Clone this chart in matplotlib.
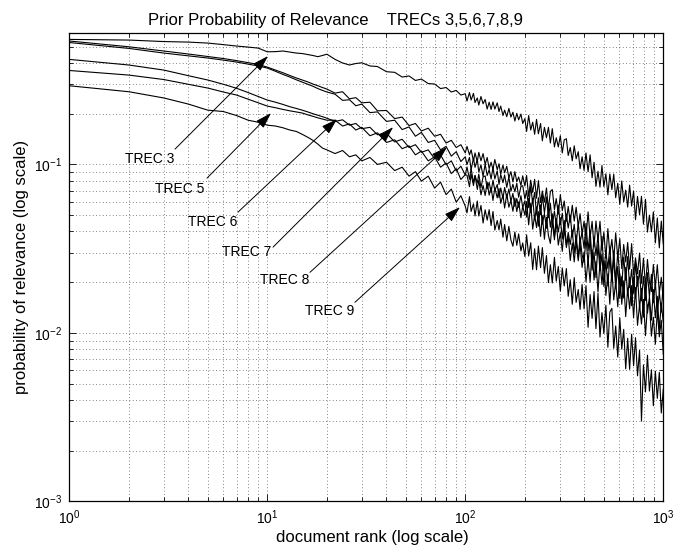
import matplotlib
matplotlib.use("Agg")
import matplotlib.pyplot as plt
import numpy as np
from matplotlib.ticker import LogLocator, NullFormatter

plt.rcParams["font.family"] = ["Liberation Sans", "DejaVu Sans"]
plt.rcParams["mathtext.default"] = "regular"

# document ranks shared by all runs
RANKS = [1, 2, 3, 4, 5, 6, 7, 8, 9, 10, 11, 12, 13, 14, 15, 16, 17, 18, 19, 20,
         22, 24, 26, 28, 30, 33, 36, 40, 44, 48, 52, 56, 60, 65, 70, 75, 80, 85, 90, 95, 100,
         102, 105, 107, 110, 112, 115, 117, 120, 123, 126,
         129, 132, 135, 138, 141, 145, 148, 151, 155, 158,
         162, 166, 170, 174, 178, 182, 186, 191, 195, 200,
         204, 209, 214, 219, 224, 229, 234, 240, 245, 251,
         257, 263, 269, 275, 282, 288, 295, 302, 309, 316,
         324, 331, 339, 347, 355, 363, 372, 380, 389, 398,
         407, 417, 427, 437, 447, 457, 468, 479, 490, 501,
         513, 525, 537, 550, 562, 575, 589, 603, 617, 631,
         646, 661, 676, 692, 708, 724, 741, 759, 776, 794,
         813, 832, 851, 871, 891, 912, 933, 955, 977, 1000]

# probability of relevance at each rank
TREC3 = [0.552, 0.547, 0.536, 0.532, 0.525, 0.514, 0.504, 0.497, 0.490, 0.466,
         0.467, 0.471, 0.464, 0.458, 0.455, 0.449, 0.443, 0.436, 0.443, 0.451,
         0.420, 0.400, 0.389, 0.397, 0.401, 0.384, 0.381, 0.355, 0.352, 0.330, 0.335,
         0.315, 0.321, 0.302, 0.300, 0.282, 0.286, 0.269, 0.275, 0.258, 0.263,
         0.238, 0.267, 0.241, 0.264, 0.233, 0.248, 0.225, 0.253, 0.229, 0.243,
         0.213, 0.234, 0.212, 0.235, 0.213, 0.232, 0.206, 0.222, 0.195, 0.210,
         0.192, 0.215, 0.191, 0.204, 0.181, 0.201, 0.184, 0.199, 0.175, 0.187,
         0.157, 0.195, 0.160, 0.178, 0.151, 0.185, 0.152, 0.175, 0.138, 0.166,
         0.144, 0.166, 0.134, 0.163, 0.127, 0.144, 0.127, 0.148, 0.117, 0.140,
         0.142, 0.113, 0.126, 0.105, 0.129, 0.108, 0.119, 0.0943, 0.111, 0.0922,
         0.117, 0.0905, 0.114, 0.0833, 0.103, 0.0741, 0.0911, 0.0733, 0.0985, 0.0738,
         0.0880, 0.0660, 0.0878, 0.0709, 0.0876, 0.0635, 0.0773, 0.0580, 0.0798, 0.0600,
         0.0704, 0.0558, 0.0754, 0.0566, 0.0696, 0.0470, 0.0646, 0.0503, 0.0647, 0.0442,
         0.0621, 0.0397, 0.0500, 0.0398, 0.0523, 0.0342, 0.0481, 0.0320, 0.0461, 0.0337]

TREC5 = [0.361, 0.339, 0.319, 0.299, 0.284, 0.269, 0.258, 0.244, 0.232, 0.222,
         0.217, 0.212, 0.208, 0.205, 0.202, 0.197, 0.193, 0.189, 0.186, 0.183,
         0.183, 0.169, 0.174, 0.160, 0.166, 0.148, 0.154, 0.135, 0.140, 0.124, 0.129,
         0.114, 0.120, 0.105, 0.111, 0.0963, 0.102, 0.0882, 0.0944, 0.0814, 0.0870,
         0.0863, 0.0738, 0.0876, 0.0749, 0.0859, 0.0711, 0.0807, 0.0660, 0.0751, 0.0654,
         0.0786, 0.0657, 0.0732, 0.0611, 0.0726, 0.0633, 0.0719, 0.0588, 0.0659, 0.0551,
         0.0667, 0.0557, 0.0611, 0.0527, 0.0632, 0.0525, 0.0599, 0.0483, 0.0566, 0.0499,
         0.0602, 0.0438, 0.0588, 0.0413, 0.0499, 0.0422, 0.0525, 0.0374, 0.0497, 0.0360,
         0.0486, 0.0378, 0.0340, 0.0459, 0.0357, 0.0457, 0.0332, 0.0394, 0.0305, 0.0416,
         0.0321, 0.0373, 0.0269, 0.0342, 0.0264, 0.0349, 0.0268, 0.0337, 0.0245, 0.0302,
         0.0201, 0.0274, 0.0200, 0.0312, 0.0206, 0.0266, 0.0175, 0.0265, 0.0194, 0.0265,
         0.0167, 0.0224, 0.0148, 0.0239, 0.0157, 0.0201, 0.0143, 0.0224, 0.0148, 0.0204,
         0.0125, 0.0185, 0.0139, 0.0191, 0.0123, 0.0186, 0.0111, 0.0147, 0.0113, 0.0158,
         0.00964, 0.0146, 0.0153, 0.00958, 0.0124, 0.00858, 0.0136, 0.00948, 0.0119, 0.00747]

TREC6 = [0.420, 0.389, 0.363, 0.336, 0.317, 0.299, 0.283, 0.267, 0.253, 0.241,
         0.234, 0.227, 0.220, 0.215, 0.210, 0.205, 0.200, 0.196, 0.192, 0.188,
         0.180, 0.184, 0.171, 0.175, 0.163, 0.166, 0.150, 0.153, 0.136, 0.141, 0.126,
         0.131, 0.118, 0.122, 0.108, 0.114, 0.0995, 0.105, 0.0915, 0.0976, 0.0864,
         0.0966, 0.0817, 0.0947, 0.0779, 0.0860, 0.0776, 0.0876, 0.0728, 0.0843, 0.0855,
         0.0716, 0.0783, 0.0682, 0.0806, 0.0701, 0.0760, 0.0636, 0.0725, 0.0629, 0.0730,
         0.0634, 0.0715, 0.0604, 0.0673, 0.0563, 0.0628, 0.0557, 0.0652, 0.0555, 0.0608,
         0.0487, 0.0632, 0.0517, 0.0630, 0.0468, 0.0560, 0.0430, 0.0576, 0.0442, 0.0512,
         0.0418, 0.0546, 0.0424, 0.0510, 0.0372, 0.0478, 0.0397, 0.0481, 0.0361, 0.0466,
         0.0333, 0.0395, 0.0335, 0.0408, 0.0297, 0.0382, 0.0282, 0.0370, 0.0291, 0.0262,
         0.0367, 0.0258, 0.0365, 0.0236, 0.0302, 0.0213, 0.0333, 0.0234, 0.0294, 0.0189,
         0.0267, 0.0190, 0.0283, 0.0202, 0.0278, 0.0184, 0.0248, 0.0160, 0.0216, 0.0161,
         0.0245, 0.0166, 0.0214, 0.0145, 0.0216, 0.0161, 0.0217, 0.0139, 0.0184, 0.0124,
         0.0194, 0.0131, 0.0164, 0.0119, 0.0181, 0.0123, 0.0165, 0.0104, 0.0151, 0.0115]

TREC7 = [0.540, 0.499, 0.471, 0.452, 0.437, 0.425, 0.413, 0.402, 0.392, 0.378,
         0.363, 0.350, 0.337, 0.326, 0.317, 0.309, 0.300, 0.293, 0.286, 0.280,
         0.265, 0.270, 0.245, 0.249, 0.232, 0.234, 0.208, 0.209, 0.187, 0.191, 0.170,
         0.175, 0.158, 0.164, 0.147, 0.151, 0.134, 0.139, 0.126, 0.131, 0.117,
         0.128, 0.114, 0.122, 0.105, 0.117, 0.104, 0.118, 0.105, 0.116, 0.100,
         0.110, 0.0943, 0.103, 0.0934, 0.107, 0.0931, 0.101, 0.0877, 0.0991, 0.0892,
         0.0975, 0.0835, 0.0906, 0.0788, 0.0906, 0.0790, 0.0842, 0.0751, 0.0856, 0.0745,
         0.0860, 0.0645, 0.0807, 0.0682, 0.0816, 0.0630, 0.0801, 0.0593, 0.0696, 0.0597,
         0.0725, 0.0543, 0.0691, 0.0710, 0.0540, 0.0627, 0.0507, 0.0662, 0.0532, 0.0607,
         0.0460, 0.0563, 0.0453, 0.0573, 0.0461, 0.0557, 0.0429, 0.0510, 0.0386, 0.0460,
         0.0361, 0.0523, 0.0369, 0.0460, 0.0324, 0.0462, 0.0354, 0.0460, 0.0310, 0.0396,
         0.0279, 0.0416, 0.0294, 0.0359, 0.0270, 0.0393, 0.0278, 0.0363, 0.0241, 0.0335,
         0.0264, 0.0344, 0.0239, 0.0339, 0.0220, 0.0279, 0.0224, 0.0298, 0.0197, 0.0278,
         0.0188, 0.0273, 0.0201, 0.0176, 0.0255, 0.0188, 0.0254, 0.0172, 0.0214, 0.0157]

TREC8 = [0.529, 0.488, 0.458, 0.441, 0.428, 0.416, 0.405, 0.394, 0.384, 0.373,
         0.357, 0.342, 0.330, 0.318, 0.308, 0.299, 0.291, 0.282, 0.275, 0.269,
         0.261, 0.240, 0.242, 0.223, 0.228, 0.203, 0.205, 0.180, 0.183, 0.161, 0.167,
         0.147, 0.155, 0.135, 0.139, 0.122, 0.128, 0.112, 0.119, 0.104, 0.111,
         0.0997, 0.110, 0.0932, 0.109, 0.0961, 0.107, 0.0900, 0.0994, 0.0850, 0.1005,
         0.0859, 0.0932, 0.0819, 0.0960, 0.0820, 0.0916, 0.0761, 0.0872, 0.0779, 0.0866,
         0.0731, 0.0845, 0.0693, 0.0763, 0.0688, 0.0773, 0.0639, 0.0740, 0.0748, 0.0624,
         0.0699, 0.0555, 0.0744, 0.0589, 0.0682, 0.0506, 0.0635, 0.0504, 0.0654, 0.0515,
         0.0641, 0.0483, 0.0587, 0.0436, 0.0529, 0.0434, 0.0573, 0.0439, 0.0514, 0.0393,
         0.0508, 0.0419, 0.0501, 0.0370, 0.0441, 0.0337, 0.0450, 0.0343, 0.0396, 0.0318,
         0.0447, 0.0309, 0.0407, 0.0262, 0.0372, 0.0288, 0.0380, 0.0256, 0.0374, 0.0234,
         0.0303, 0.0241, 0.0327, 0.0211, 0.0307, 0.0203, 0.0301, 0.0218, 0.0190, 0.0282,
         0.0205, 0.0284, 0.0186, 0.0238, 0.0172, 0.0262, 0.0190, 0.0235, 0.0155, 0.0216,
         0.0156, 0.0228, 0.0164, 0.0223, 0.0151, 0.0201, 0.0132, 0.0175, 0.0133, 0.0199]

TREC9 = [0.293, 0.270, 0.248, 0.228, 0.210, 0.206, 0.195, 0.183, 0.178, 0.171,
         0.169, 0.165, 0.160, 0.157, 0.151, 0.145, 0.139, 0.132, 0.125, 0.122,
         0.116, 0.121, 0.111, 0.114, 0.105, 0.110, 0.100, 0.103, 0.0919, 0.0963, 0.0852,
         0.0906, 0.0796, 0.0852, 0.0724, 0.0785, 0.0662, 0.0714, 0.0597, 0.0652, 0.0565,
         0.0516, 0.0644, 0.0526, 0.0584, 0.0495, 0.0607, 0.0494, 0.0571, 0.0449, 0.0538,
         0.0467, 0.0539, 0.0434, 0.0526, 0.0408, 0.0465, 0.0409, 0.0474, 0.0370, 0.0440,
         0.0352, 0.0429, 0.0356, 0.0327, 0.0397, 0.0331, 0.0387, 0.0307, 0.0342, 0.0284,
         0.0382, 0.0286, 0.0343, 0.0238, 0.0316, 0.0237, 0.0328, 0.0244, 0.0321, 0.0226,
         0.0288, 0.0199, 0.0254, 0.0198, 0.0281, 0.0203, 0.0248, 0.0177, 0.0243, 0.0190,
         0.0241, 0.0165, 0.0207, 0.0148, 0.0213, 0.0152, 0.0181, 0.0138, 0.0194, 0.0139,
         0.0191, 0.0108, 0.0169, 0.0122, 0.0176, 0.0106, 0.0172, 0.00945, 0.0132, 0.00993,
         0.0146, 0.00822, 0.0133, 0.0140, 0.00811, 0.0110, 0.00719, 0.0123, 0.00802, 0.0105,
         0.00612, 0.00930, 0.00608, 0.00982, 0.00639, 0.00937, 0.00557, 0.00790, 0.00300, 0.00647,
         0.00447, 0.00738, 0.00452, 0.00604, 0.00370, 0.00593, 0.00409, 0.00584, 0.00335, 0.00463]

SERIES = [TREC3, TREC5, TREC6, TREC7, TREC8, TREC9]
NAMES = ["TREC 3", "TREC 5", "TREC 6", "TREC 7", "TREC 8", "TREC 9"]


def main() -> None:
    fig = plt.figure(figsize=(6.74, 5.54), dpi=100)
    ax = fig.add_axes([0.1028, 0.0948, 0.8813, 0.8451])

    for ys in SERIES:
        ax.plot(RANKS, ys, color="k", lw=0.8)

    ax.set_xscale("log")
    ax.set_yscale("log")
    ax.set_xlim(1, 1000)
    ax.set_ylim(1e-3, 0.6)

    for axis in (ax.xaxis, ax.yaxis):
        axis.set_major_locator(LogLocator(base=10, numticks=10))
        axis.set_minor_locator(LogLocator(base=10, subs=np.arange(2, 10), numticks=10))
        axis.set_minor_formatter(NullFormatter())

    ax.grid(True, which="both", linestyle=(0, (1, 3)), lw=0.6, color="0.35")
    ax.tick_params(which="both", direction="in", top=True, right=True, width=0.6,
                   labelsize=10, pad=5)
    ax.tick_params(which="major", length=5)
    ax.tick_params(which="minor", length=3)
    for sp in ax.spines.values():
        sp.set_linewidth(0.9)

    # (label right edge, arrow tail, arrow tip) in data coords
    notes = [
        ((3.38, 0.1075), (3.42, 0.1233), (10.08, 0.4396)),
        ((4.79, 0.0713), (4.96, 0.0829), (10.44, 0.2016)),
        ((7.03, 0.0454), (7.11, 0.0521), (22.5, 0.1858)),
        ((10.44, 0.0301), (10.69, 0.0323), (43.2, 0.1665)),
        ((16.24, 0.0206), (16.43, 0.0229), (80.9, 0.1267)),
        ((27.4, 0.0135), (27.7, 0.0152), (94.0, 0.0558)),
    ]
    for name, (lab, tail, tip) in zip(NAMES, notes):
        ax.annotate("", xy=tip, xytext=tail,
                    arrowprops=dict(arrowstyle="-|>,head_length=0.7,head_width=0.22",
                                    color="k", lw=0.7, shrinkA=0, shrinkB=0,
                                    mutation_scale=14))
        ax.text(lab[0], lab[1], name, ha="right", va="center", fontsize=10)

    ax.set_title("Prior Probability of Relevance    TRECs 3,5,6,7,8,9", fontsize=12,
                 pad=6, x=0.448)
    ax.set_xlabel("document rank (log scale)", fontsize=12, labelpad=2)
    ax.xaxis.label.set_x(0.51)
    ax.set_ylabel("probability of relevance (log scale)", fontsize=12, labelpad=4)

    fig.savefig("out.png", dpi=100)
    plt.close(fig)


if __name__ == "__main__":
    main()
